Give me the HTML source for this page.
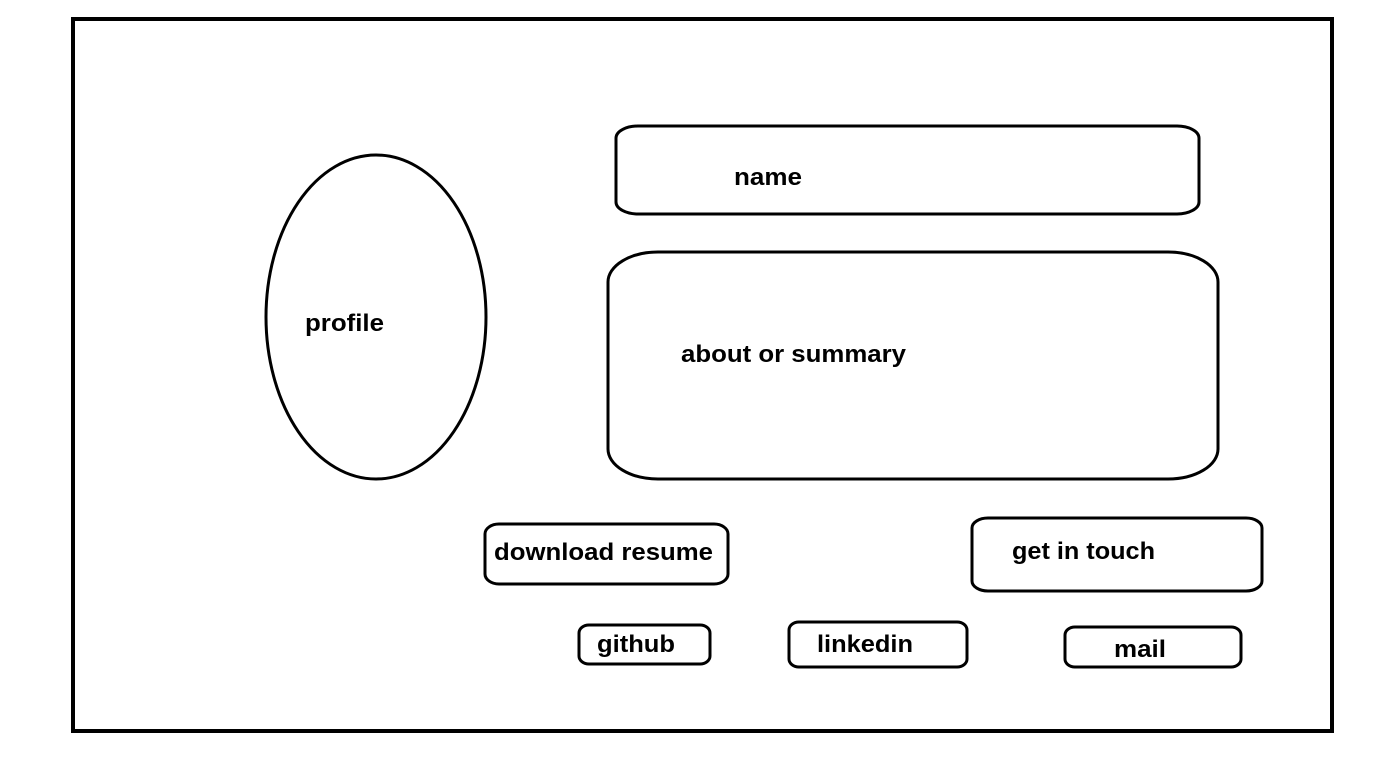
<!DOCTYPE html>
<html><head><style>
html,body{margin:0;padding:0;background:#fff;}
svg{display:block;}
text{font-family:"Liberation Sans",sans-serif;font-weight:bold;font-size:24px;fill:#000;}
</style></head><body>
<svg width="1393" height="765" viewBox="0 0 1393 765">
<rect x="73" y="19" width="1259" height="712" fill="none" stroke="#000" stroke-width="4"/>
<ellipse cx="376" cy="317" rx="110" ry="162" fill="none" stroke="#000" stroke-width="3"/>
<text x="305" y="331" textLength="79" lengthAdjust="spacingAndGlyphs">profile</text>
<rect x="616" y="126" width="583" height="88" rx="22" ry="12" fill="none" stroke="#000" stroke-width="3"/>
<text x="734" y="185" textLength="68" lengthAdjust="spacingAndGlyphs">name</text>
<rect x="608" y="252" width="610" height="227" rx="50" ry="30" fill="none" stroke="#000" stroke-width="3"/>
<text x="681" y="362" textLength="225" lengthAdjust="spacingAndGlyphs">about or summary</text>
<rect x="485" y="524" width="243" height="60" rx="14" ry="10" fill="none" stroke="#000" stroke-width="3"/>
<text x="494" y="560" textLength="219" lengthAdjust="spacingAndGlyphs">download resume</text>
<rect x="972" y="518" width="290" height="73" rx="16" ry="10" fill="none" stroke="#000" stroke-width="3"/>
<text x="1012" y="559" textLength="143" lengthAdjust="spacingAndGlyphs">get in touch</text>
<rect x="579" y="625" width="131" height="39" rx="10" ry="8" fill="none" stroke="#000" stroke-width="3"/>
<text x="597" y="652" textLength="78" lengthAdjust="spacingAndGlyphs">github</text>
<rect x="789" y="622" width="178" height="45" rx="10" ry="8" fill="none" stroke="#000" stroke-width="3"/>
<text x="817" y="652" textLength="96" lengthAdjust="spacingAndGlyphs">linkedin</text>
<rect x="1065" y="627" width="176" height="40" rx="10" ry="8" fill="none" stroke="#000" stroke-width="3"/>
<text x="1114" y="657" textLength="52" lengthAdjust="spacingAndGlyphs">mail</text>
</svg>
</body></html>
